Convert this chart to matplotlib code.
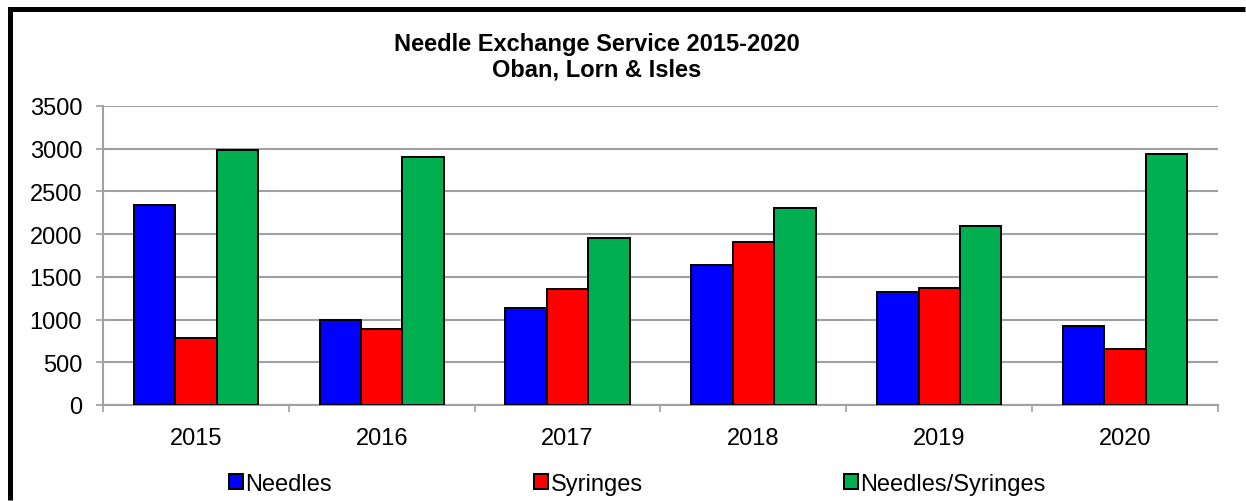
import numpy as np
import matplotlib
matplotlib.use('Agg')
from matplotlib import pyplot as plt
from matplotlib.lines import Line2D

plt.rcParams['font.family'] = ['Liberation Sans', 'DejaVu Sans']

years = ['2015', '2016', '2017', '2018', '2019', '2020']
needles = [2345, 990, 1130, 1640, 1320, 925]
syringes = [785, 885, 1355, 1905, 1370, 655]
needles_syringes = [2990, 2905, 1955, 2305, 2100, 2940]

series = [('Needles', needles, '#0000ff'),
          ('Syringes', syringes, '#ff0000'),
          ('Needles/Syringes', needles_syringes, '#00b050')]

W, H = 1246, 502
fig = plt.figure(figsize=(W/100, H/100), dpi=100)
ax = fig.add_axes([103/W, 1-406/H, (1218-103)/W, (406-107)/H])

x = np.arange(len(years))
bw = 0.223
bars = []
for i, (name, vals, col) in enumerate(series):
    b = ax.bar(x + (i-1)*bw, vals, bw, color=col, edgecolor='black',
               linewidth=1.4, label=name, zorder=3)
    bars.append(b)

ax.set_xlim(-0.5, len(years)-0.5)
ax.set_ylim(0, 3500)
ax.set_yticks(range(0, 3501, 500))
ax.yaxis.grid(True, color='#a0a0a0', linewidth=1.5, zorder=0)
ax.set_xticks(x)
ax.set_xticklabels(years)
ax.set_xticks(np.arange(-0.5, len(years), 1), minor=True)
ax.tick_params(axis='x', which='major', length=0, pad=16, labelsize=17)
ax.tick_params(axis='x', which='minor', length=5, width=1.2, color='#a0a0a0')
ax.tick_params(axis='y', length=5, width=1.2, color='#a0a0a0', pad=10, labelsize=17)
for s in ['top', 'right']:
    ax.spines[s].set_visible(False)
for s in ['left', 'bottom']:
    ax.spines[s].set_color('#a0a0a0')
    ax.spines[s].set_linewidth(1.5)

fig.text(597/W, 1-57/H, 'Needle Exchange Service 2015-2020\nOban, Lorn & Isles',
         ha='center', va='center', fontsize=17, fontweight='bold', linespacing=1.12)

# legend entries spread out like the original
leg_x = [229, 534, 844]
for b, (name, vals, col), lx in zip(bars, series, leg_x):
    fig.legend([b], [name], loc='center left', bbox_to_anchor=(lx/W, 1-485/H),
               frameon=False, fontsize=17, handlelength=0.6, handleheight=0.6,
               handletextpad=0.1, borderpad=0, borderaxespad=0)

# outer chart border, only left and top edges are inside the picture
bx, by = 10/W, 1-10/H
fig.add_artist(Line2D([bx, bx, (W-1)/W], [1/H, by, by], transform=fig.transFigure,
                      color='black', linewidth=3.6, solid_joinstyle='miter',
                      solid_capstyle='butt'))

fig.savefig('out.png', dpi=100)
